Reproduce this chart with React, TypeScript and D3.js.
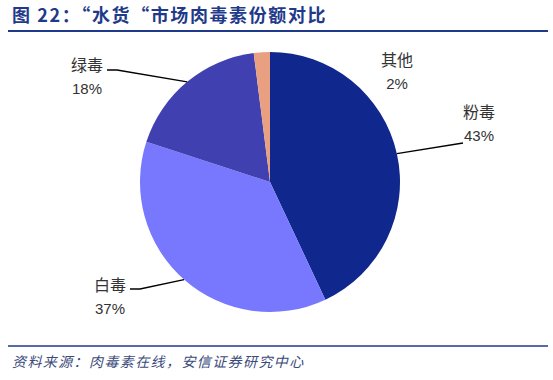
import React from "react";
import * as d3 from "d3";

const categories = ["粉毒", "白毒", "绿毒", "其他"];
const shares = [43, 37, 18, 2];
const colors = ["#10288E", "#7878FF", "#4040B0", "#E9A080"];

const W = 553;
const H = 380;
const cx = 270;
const cy = 182;
const R = 130;

const labelLayout: Record<string, { tx: number; ty: number; anchor: string; line?: [number, number][] }> = {
  粉毒: { tx: 479, ty: 118, anchor: "middle", line: [[463, 143]] },
  白毒: { tx: 110, ty: 291, anchor: "middle", line: [[140, 289], [130, 289]] },
  绿毒: { tx: 87, ty: 71, anchor: "middle", line: [[117, 70], [107, 70]] },
  其他: { tx: 397, ty: 66, anchor: "middle" },
};

export default function App() {
  const data = categories.map((c, i) => ({ name: c, value: shares[i], color: colors[i] }));
  const pie = d3.pie<any>().sort(null).value((d) => d.value);
  const arcs = pie(data);
  const arc = d3.arc<any>().innerRadius(0).outerRadius(R);
  const font = "'Liberation Sans', 'Noto Sans CJK SC', sans-serif";

  return (
    <svg width={W} height={H} style={{ position: "absolute", left: 0, top: 0, background: "#fff" }}>
      <text x={12} y={22} fontFamily="'Noto Sans CJK SC', sans-serif" fontWeight="bold" fontSize={18} letterSpacing={1.6} fill="#1F3A8A">
        图 22：“水货“市场肉毒素份额对比
      </text>
      <line x1={8} x2={548} y1={31} y2={31} stroke="#1F3A8A" strokeWidth={2} />
      <g transform={`translate(${cx},${cy})`}>
        {arcs.map((a, i) => (
          <path key={i} d={arc(a) as string} fill={a.data.color} />
        ))}
      </g>
      {arcs.map((a, i) => {
        const L = labelLayout[a.data.name];
        const mid = (a.startAngle + a.endAngle) / 2;
        const sx = cx + R * Math.sin(mid);
        const sy = cy - R * Math.cos(mid);
        const pts: [number, number][] = [[sx, sy], ...(L.line || [])];
        return (
          <g key={"l" + i}>
            {L.line && (
              <path d={d3.line()(pts) as string} fill="none" stroke="#000" strokeWidth={1.3} />
            )}
            <text x={L.tx} y={L.ty} textAnchor={L.anchor} fontFamily={font} fontSize={16} fill="#333">
              {a.data.name}
            </text>
            <text x={L.tx} y={L.ty + 23} textAnchor={L.anchor} fontFamily={font} fontSize={15} fill="#333">
              {a.data.value}%
            </text>
          </g>
        );
      })}
      <line x1={8} x2={548} y1={346} y2={346} stroke="#1F3A8A" strokeWidth={1.5} />
      <text x={12} y={367} fontFamily="'Noto Sans CJK SC', sans-serif" fontStyle="italic" fontSize={14} letterSpacing={1.4} fill="#3A4A7A">
        资料来源：肉毒素在线，安信证券研究中心
      </text>
    </svg>
  );
}
